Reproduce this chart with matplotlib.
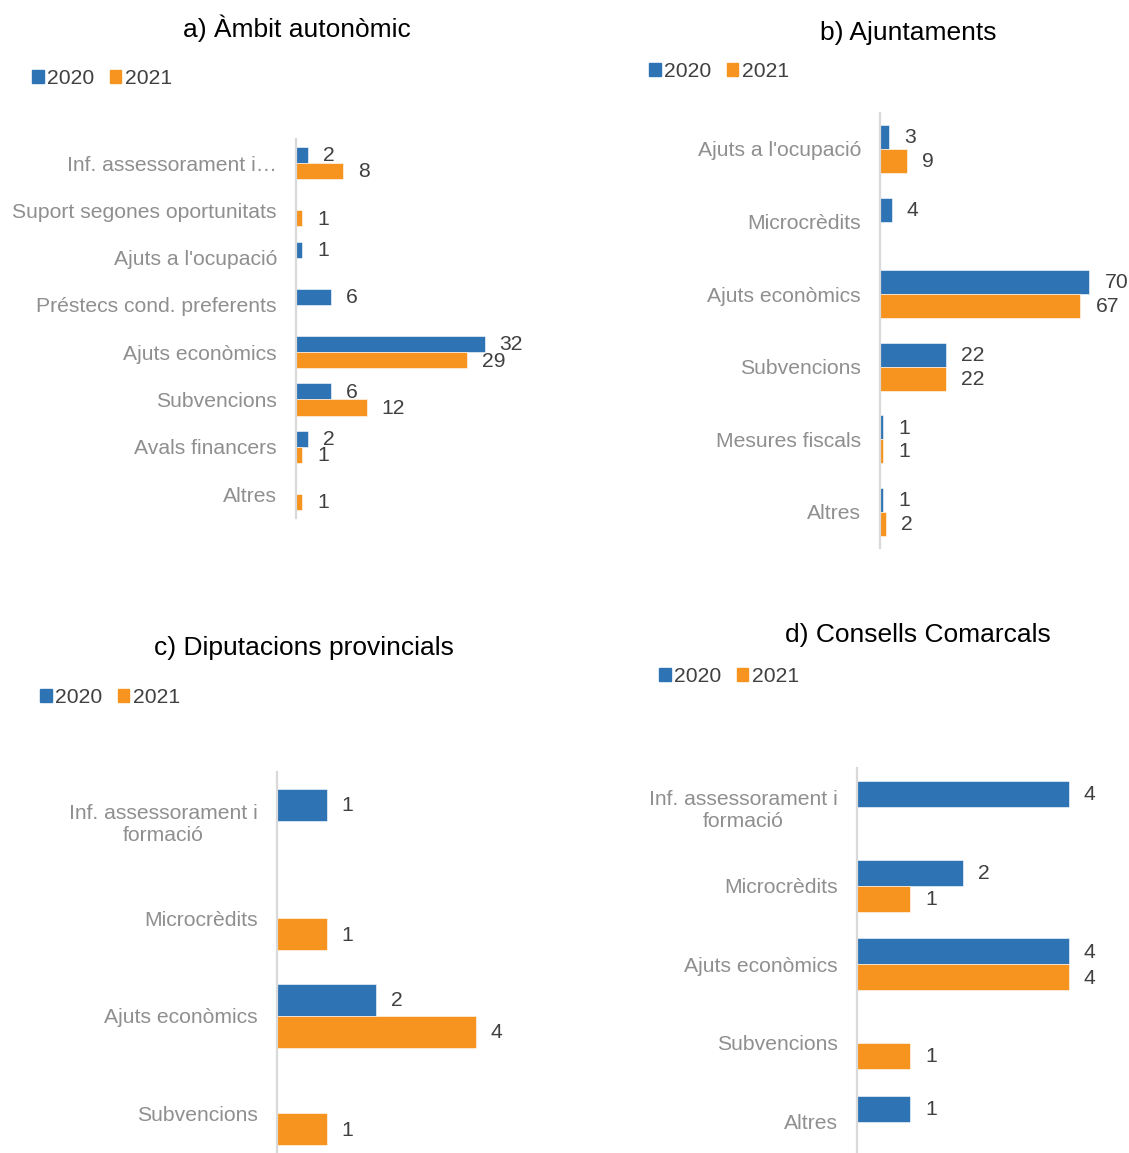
import matplotlib
matplotlib.use("Agg")
import matplotlib.pyplot as plt
from matplotlib.patches import Patch

plt.rcParams['font.family'] = ['Liberation Sans', 'DejaVu Sans']

# Data
years = ["2020", "2021"]

cats_a = ["Inf. assessorament i…", "Suport segones oportunitats", "Ajuts a l'ocupació",
          "Préstecs cond. preferents", "Ajuts econòmics", "Subvencions",
          "Avals financers", "Altres"]
a_2020 = [2, 0, 1, 6, 32, 6, 2, 0]
a_2021 = [8, 1, 0, 0, 29, 12, 1, 1]

cats_b = ["Ajuts a l'ocupació", "Microcrèdits", "Ajuts econòmics", "Subvencions",
          "Mesures fiscals", "Altres"]
b_2020 = [3, 4, 70, 22, 1, 1]
b_2021 = [9, 0, 67, 22, 1, 2]

cats_c = ["Inf. assessorament i\nformació", "Microcrèdits", "Ajuts econòmics", "Subvencions"]
c_2020 = [1, 0, 2, 0]
c_2021 = [0, 1, 4, 1]

cats_d = ["Inf. assessorament i\nformació", "Microcrèdits", "Ajuts econòmics",
          "Subvencions", "Altres"]
d_2020 = [4, 2, 4, 0, 1]
d_2021 = [0, 1, 4, 1, 0]

titles = ["a) Àmbit autonòmic", "b) Ajuntaments", "c) Diputacions provincials",
          "d) Consells Comarcals"]

BLUE = "#2E73B4"
ORANGE = "#F7941F"
TICK_GRAY = "#8F8F8F"
VAL_GRAY = "#404040"
FS = 15.2

W, H = 1129, 1153
fig = plt.figure(figsize=(W / 100, H / 100), dpi=100)


def px_axes(x0, x1, y0, y1):
    return fig.add_axes([x0 / W, 1 - y1 / H, (x1 - x0) / W, (y1 - y0) / H])


def panel(rect, cats, v20, v21, xmax, bh, title, title_xy, leg_xy):
    ax = px_axes(*rect)
    n = len(cats)
    for i in range(n):
        for v, off, col in ((v20[i], -bh / 2, BLUE), (v21[i], bh / 2, ORANGE)):
            if v:
                ax.barh(i + off, v, height=bh, color=col, edgecolor="white", linewidth=0.4)
                ax.annotate(str(v), xy=(v, i + off), xytext=(10.8, -0.6),
                            textcoords="offset points", ha="left", va="center",
                            fontsize=FS, color=VAL_GRAY, annotation_clip=False)
    ax.set_ylim(n - 0.5, -0.5)
    ax.set_xlim(0, xmax)
    ax.set_yticks(range(n))
    ax.set_yticklabels(cats, fontsize=FS, color=TICK_GRAY, multialignment="center")
    ax.tick_params(axis="y", length=0, pad=13.7)
    ax.set_xticks([])
    for s in ["top", "right", "bottom"]:
        ax.spines[s].set_visible(False)
    ax.spines["left"].set_color("#D9D9D9")
    ax.spines["left"].set_linewidth(1.6)
    ax.patch.set_alpha(0)

    fig.text(title_xy[0] / W, 1 - title_xy[1] / H, title, fontsize=19,
             ha="center", va="center", color="black")
    handles = [Patch(color=BLUE), Patch(color=ORANGE)]
    fig.legend(handles, years, loc="center left",
               bbox_to_anchor=(leg_xy[0] / W, 1 - leg_xy[1] / H),
               bbox_transform=fig.transFigure, ncol=2, frameon=False,
               fontsize=FS, handlelength=0.55, handleheight=0.55,
               handletextpad=0.15, columnspacing=0.75, borderpad=0,
               borderaxespad=0, labelcolor=VAL_GRAY)
    return ax


panel((296, 530, 139.4, 517.7), cats_a, a_2020, a_2021, 39.7, 0.34,
      titles[0], (297, 28), (32, 78.5))
panel((880, 1120, 112.7, 548), cats_b, b_2020, b_2021, 80.2, 0.33,
      titles[1], (908, 33), (649, 71.5))
panel((277, 560, 772, 1162), cats_c, c_2020, c_2021, 5.7, 0.33,
      titles[2], (304, 648), (40, 697.5))
panel((857, 1120, 767.6, 1161), cats_d, d_2020, d_2021, 4.97, 0.33,
      titles[3], (918, 635), (659, 676.5))

fig.savefig("out.png", dpi=100)
